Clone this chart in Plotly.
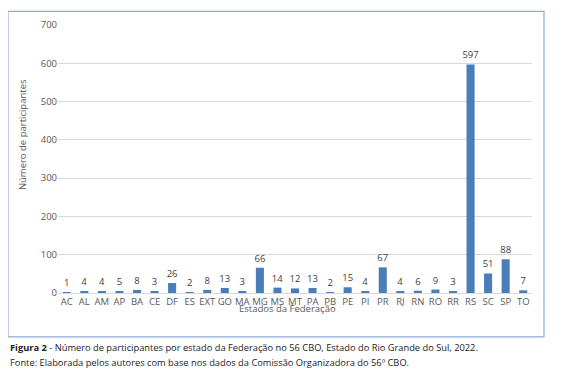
import plotly.graph_objects as go

estados = ["AC","AL","AM","AP","BA","CE","DF","ES","EXT","GO","MA","MG","MS","MT","PA","PB","PE","PI","PR","RJ","RN","RO","RR","RS","SC","SP","TO"]
participantes = [1,4,4,5,8,3,26,2,8,13,3,66,14,12,13,2,15,4,67,4,6,9,3,597,51,88,7]
y_ticks = [0,100,200,300,400,500,600,700]

FONT = "Open Sans, DejaVu Sans, sans-serif"
OFF = 8  # page body margin
W, H = 567 - OFF, 377 - OFF
L, R, T, B = 58 - OFF, 35, 18 - OFF, 84
pw, ph = W - L - R, H - T - B

def px_x(x):
    return (x - OFF - L) / pw

def px_y(y):
    return (H - B - (y - OFF)) / ph

fig = go.Figure(go.Bar(
    x=estados, y=participantes,
    marker=dict(color="#4a7ebb", line=dict(width=0)),
    text=[str(v) for v in participantes], textposition="outside",
    constraintext="none",
    textfont=dict(size=9.5, color="#404040", family=FONT),
    cliponaxis=False,
))

fig.update_layout(
    width=W, height=H,
    margin=dict(l=L, r=R, t=T, b=B, pad=0),
    paper_bgcolor="white", plot_bgcolor="white",
    bargap=0.54, showlegend=False,
    font=dict(family=FONT, size=9.5, color="#595959"),
    xaxis=dict(
        type="category", showgrid=False, showline=True, linecolor="#d9d9d9", linewidth=1,
        tickfont=dict(size=9.5, color="#595959"), ticks="", ticklen=0,
    ),
    yaxis=dict(
        range=[0, 700], tickvals=y_ticks, showgrid=True, gridcolor="#d9d9d9", gridwidth=1,
        zeroline=False, showline=False, ticks="", tickfont=dict(size=9.5, color="#595959"),
    ),
    shapes=[dict(
        type="rect", xref="paper", yref="paper",
        x0=px_x(8), x1=px_x(544), y0=px_y(338), y1=px_y(4),
        line=dict(color="#8eaadb", width=1.2), fillcolor="rgba(0,0,0,0)", layer="below",
    )],
    annotations=[
        dict(xref="paper", yref="paper", x=px_x(287), y=px_y(309), xanchor="center", yanchor="middle",
             showarrow=False, text="Estados da Federação",
             font=dict(size=9.5, color="#595959", family=FONT)),
        dict(xref="paper", yref="paper", x=px_x(22), y=px_y(131), xanchor="center", yanchor="middle",
             showarrow=False, text="Número de participantes", textangle=-90,
             font=dict(size=9.5, color="#595959", family=FONT)),
        dict(xref="paper", yref="paper", x=px_x(8), y=px_y(349), xanchor="left", yanchor="middle",
             showarrow=False, align="left",
             text="<b>Figura 2</b> - Número de participantes por estado da Federação no 56 CBO, Estado do Rio Grande do Sul, 2022.",
             font=dict(size=9.3, color="#222222", family=FONT)),
        dict(xref="paper", yref="paper", x=px_x(8), y=px_y(364), xanchor="left", yanchor="middle",
             showarrow=False, align="left",
             text="Fonte: Elaborada pelos autores com base nos dados da Comissão Organizadora do 56º CBO.",
             font=dict(size=9.3, color="#222222", family=FONT)),
    ],
)

fig.write_html("out.html")
